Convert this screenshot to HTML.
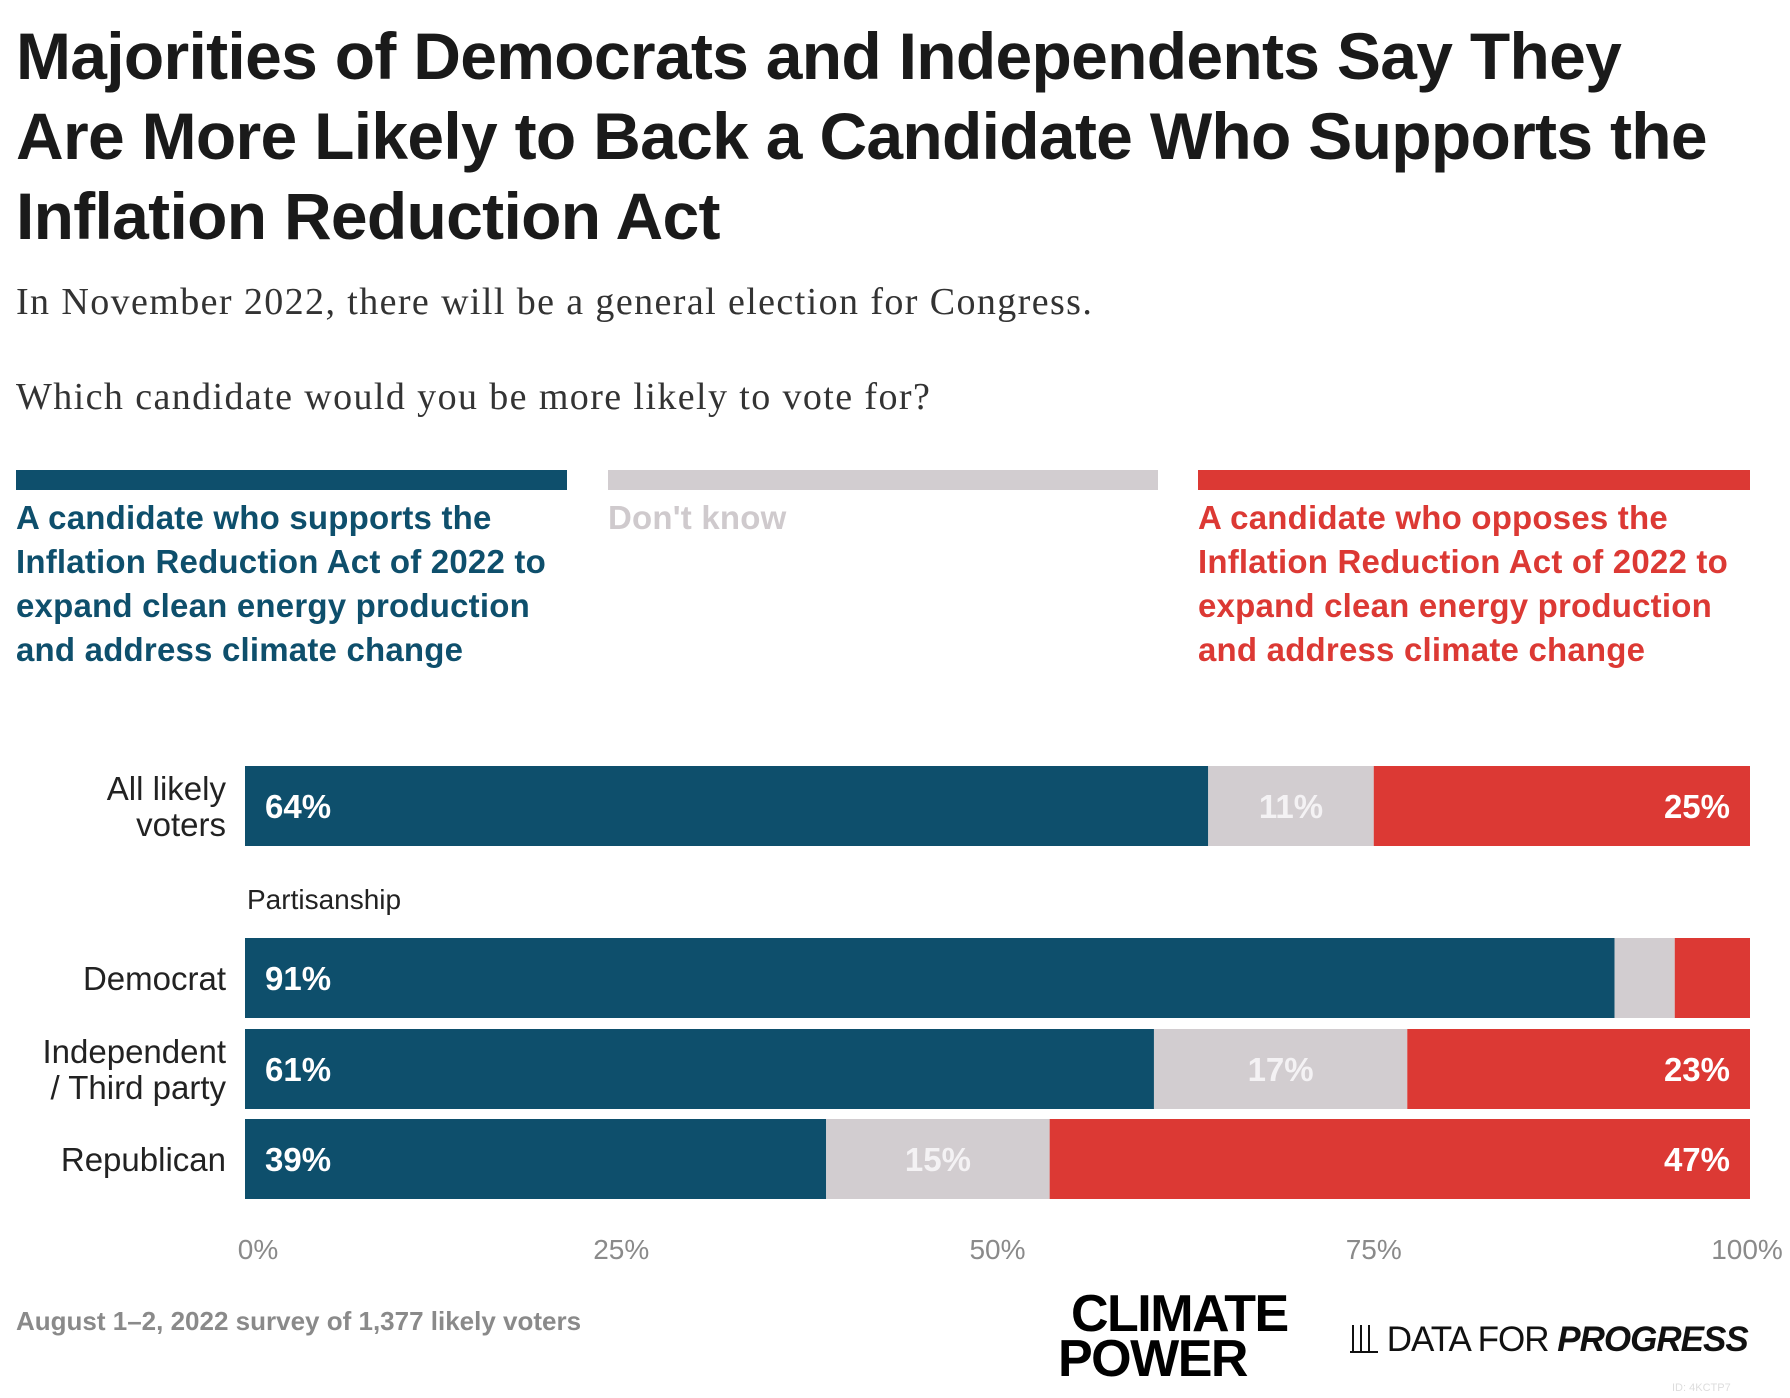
<!DOCTYPE html>
<html><head><meta charset="utf-8">
<style>
body{margin:0;width:1790px;height:1398px;background:#fff;position:relative;overflow:hidden;font-family:"Liberation Sans",sans-serif}
.a{position:absolute;white-space:nowrap}
.title{left:16px;font-size:66px;font-weight:bold;color:#1a1a1a;letter-spacing:-0.7px}
.sub{left:16px;font-family:"Liberation Serif",serif;font-size:38px;color:#333;letter-spacing:1.4px}
.leg{font-size:33px;line-height:44px;font-weight:bold;letter-spacing:0.2px}
</style></head><body>
<div class="a title" style="top:18px">Majorities of Democrats and Independents Say They</div>
<div class="a title" style="top:98px">Are More Likely to Back a Candidate Who Supports the</div>
<div class="a title" style="top:178px">Inflation Reduction Act</div>
<div class="a sub" style="top:280px">In November 2022, there will be a general election for Congress.</div>
<div class="a sub" style="top:375px">Which candidate would you be more likely to vote for?</div>

<div class="a" style="left:16px;top:470px;width:551px;height:20px;background:#0e4f6c"></div>
<div class="a" style="left:608px;top:470px;width:550px;height:20px;background:#d2cdd0"></div>
<div class="a" style="left:1198px;top:470px;width:552px;height:20px;background:#dc3934"></div>
<div class="a leg" style="left:16px;top:496px;color:#0e4f6c">A candidate who supports the<br>Inflation Reduction Act of 2022 to<br>expand clean energy production<br>and address climate change</div>
<div class="a leg" style="left:608px;top:496px;color:#cfcacd">Don't know</div>
<div class="a leg" style="left:1198px;top:496px;color:#dc3934">A candidate who opposes the<br>Inflation Reduction Act of 2022 to<br>expand clean energy production<br>and address climate change</div>

<svg id="chart" class="a" style="left:0;top:0" width="1790" height="1398"></svg>

<div class="a" style="left:16px;top:1306px;font-size:26px;font-weight:bold;color:#8a8a8a">August 1–2, 2022 survey of 1,377 likely voters</div>
<div class="a" style="left:1058px;top:1292px;font-size:52px;font-weight:900;line-height:45px;color:#000;letter-spacing:-1.5px">&nbsp;CLIMATE<br>POWER</div>
<div class="a" style="left:1350px;top:1320px;font-size:35px;color:#111;letter-spacing:-1px">
<span style="display:inline-block;width:28px;height:26px;border-bottom:2px solid #111;position:relative;vertical-align:-2px;background:linear-gradient(90deg,transparent 2px,#111 2px,#111 4px,transparent 4px,transparent 10px,#111 10px,#111 12px,transparent 12px,transparent 18px,#111 18px,#111 20px,transparent 20px)"></span> DATA FOR <b><i>PROGRESS</i></b></div>
<div class="a" style="left:1672px;top:1382px;font-size:11px;color:#ddd">ID: 4KCTP7</div>

<script>
const categories=["All likely voters","Democrat","Independent / Third party","Republican"];
const supports=[64,91,61,39];
const dontKnow=[11,4,17,15];
const opposes=[25,5,23,47];
const showLabels=[true,false,true,true];
const ticks=[0,25,50,75,100];
const tickLabels=["0%","25%","50%","75%","100%"];

const svg=document.getElementById('chart');
const NS='http://www.w3.org/2000/svg';
const X0=245,X1=1750;
const rowTop=[766,938,1029,1119];
const BH=80;
function x(p){return X0+(X1-X0)*p/100;}
function el(t,a){const e=document.createElementNS(NS,t);for(const k in a)e.setAttribute(k,a[k]);svg.appendChild(e);return e;}

const rowLines={0:["All likely","voters"],1:["Democrat"],2:["Independent","/ Third party"],3:["Republican"]};
const colors=["#0e4f6c","#d2cdd0","#dc3934"];
const names=["supports","dont-know","opposes"];
categories.forEach((c,i)=>{
  const vals=[supports[i],dontKnow[i],opposes[i]];
  const tot=vals[0]+vals[1]+vals[2];
  let acc=0;
  const y=rowTop[i];
  vals.forEach((v,j)=>{
    const p0=acc/tot*100,p1=(acc+v)/tot*100;acc+=v;
    const r=el('rect',{x:x(p0),y:y,width:x(p1)-x(p0),height:BH,fill:colors[j]});
    
    
    if(j===0||showLabels[i]){
      let tx,anchor;
      if(j===0){tx=x(p0)+20;anchor='start';}
      else if(j===1){tx=(x(p0)+x(p1))/2;anchor='middle';}
      else{tx=x(p1)-20;anchor='end';}
      const t=el('text',{x:tx,y:y+BH/2+12,'text-anchor':anchor,'font-size':33,'font-weight':'bold',fill:j===1?'#f4f2f4':'#fff','font-family':'Liberation Sans, sans-serif'});
      t.textContent=v+'%';
      
      
    }
  });
  const lines=rowLines[i];
  lines.forEach((ln,k)=>{
    const yy=y+BH/2+12+(k-(lines.length-1)/2)*36;
    const t=el('text',{x:226,y:yy,'text-anchor':'end','font-size':33,fill:'#222','font-family':'Liberation Sans, sans-serif'});
    t.textContent=ln;
    
    
  });
});
const ps=el('text',{x:247,y:909,'font-size':28,fill:'#222','font-family':'Liberation Sans, sans-serif'});
ps.textContent='Partisanship';


ticks.forEach((tk,i)=>{
  const t=el('text',{x:x(tk)+(i===0?13:0)-(i===4?3:0),y:1259,'text-anchor':'middle','font-size':28,fill:'#8a8a8a','font-family':'Liberation Sans, sans-serif'});
  t.textContent=tickLabels[i];
  
  
});
</script>
</body></html>
